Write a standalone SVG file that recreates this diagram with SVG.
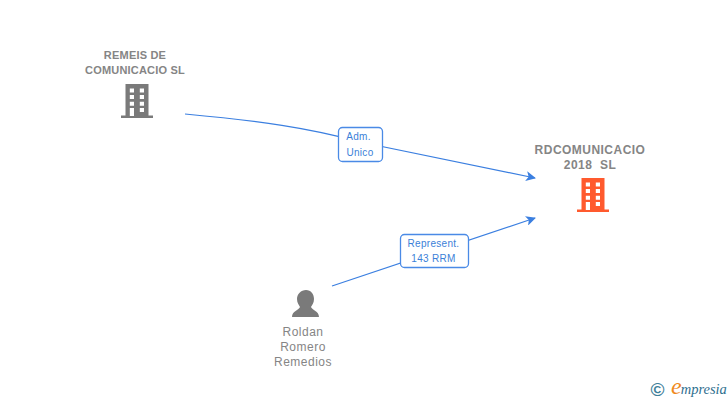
<svg xmlns="http://www.w3.org/2000/svg" width="728" height="400" viewBox="0 0 728 400">
<style>
.t{font-family:"Liberation Sans",Arial,sans-serif;fill:#858585;text-anchor:middle}
.b{font-weight:bold;font-size:11px;letter-spacing:.2px}
.h{font-weight:bold;font-size:12px;letter-spacing:.47px;white-space:pre}
.n{font-size:12px;letter-spacing:.5px}
.c{fill:none;stroke:#3b7fe0;stroke-width:1.2}
.l{fill:#fff;stroke:#4a8ae6;stroke-width:1.3}
.lt{font-family:"Liberation Sans",Arial,sans-serif;font-size:10px;fill:#3b7fd8;text-anchor:middle;letter-spacing:.3px}
</style>
<defs>
<marker id="a" viewBox="0 0 10 10" refX="9" refY="5" markerWidth="10" markerHeight="10" markerUnits="userSpaceOnUse" orient="auto"><path d="M0 0L10 5L0 10L2.500 5Z" fill="#3b7fe0"/></marker>
<symbol id="bld" viewBox="0 0 32 34" overflow="visible">
<path fill-rule="evenodd" d="M4.500 0H27.500V31.500H32V34H0V31.500H4.500ZM8.800 4.500V8.500H13V4.500ZM18.800 4.500V8.500H23V4.500ZM8.800 11V15H13V11ZM18.800 11V15H23V11ZM8.800 17.700V21.700H13V17.700ZM18.800 17.700V21.700H23V17.700ZM8.800 24V32H13V24ZM18.800 24V28H23V24Z"/>
</symbol>
</defs>
<rect width="728" height="400" fill="#fff"/>
<g id="connectors">
<path class="c" marker-end="url(#a)" d="M185 114C260 121 310 128 360 142L535 178"/>
<path class="c" marker-end="url(#a)" d="M332 286L535 218"/>
</g>
<g id="edge-label-1">
<rect class="l" x="338.500" y="127.500" width="44" height="34" rx="4"/>
<text class="lt" x="358.500" y="140">Adm.</text>
<text class="lt" x="360" y="156">Unico</text>
</g>
<g id="edge-label-2">
<rect class="l" x="400.500" y="234.500" width="68" height="33" rx="4"/>
<text class="lt" x="433.500" y="247">Represent.</text>
<text class="lt" x="433.500" y="262">143 RRM</text>
</g>
<g id="node-remeis">
<text class="t b" x="135" y="59">REMEIS DE</text>
<text class="t b" x="135" y="74">COMUNICACIO SL</text>
<use href="#bld" x="121" y="84" width="32" height="34" fill="#7a7a7a"/>
</g>
<g id="node-rdcomunicacio">
<text class="t h" x="590" y="154">RDCOMUNICACIO</text>
<text class="t h" x="590" y="169">2018  SL</text>
<use href="#bld" x="577" y="178" width="32" height="34" fill="#ff5a2e"/>
</g>
<g id="node-roldan">
<path d="M306 290C311 290 314 294 314 299C314 303 312 305 311 307C312 310 319 311 319 317H292C292 311 299 310 300 307C299 305 297 303 297 299C297 294 301 290 306 290Z" fill="#7a7a7a"/>
<text class="t n" x="303" y="336">Roldan</text>
<text class="t n" x="303" y="351">Romero</text>
<text class="t n" x="303" y="366">Remedios</text>
</g>
<g id="watermark">
<text x="657.500" y="395.500" font-family="Liberation Sans,sans-serif" font-size="19" font-weight="bold" fill="#3f7f9a" text-anchor="middle">©</text>
<text x="671" y="393.500" font-family="Liberation Serif,serif" font-style="italic"><tspan font-size="24" fill="#f08a1d">e</tspan><tspan font-size="14.500" fill="#2f6f8f" dx="-1">mpresia</tspan></text>
</g>
</svg>
